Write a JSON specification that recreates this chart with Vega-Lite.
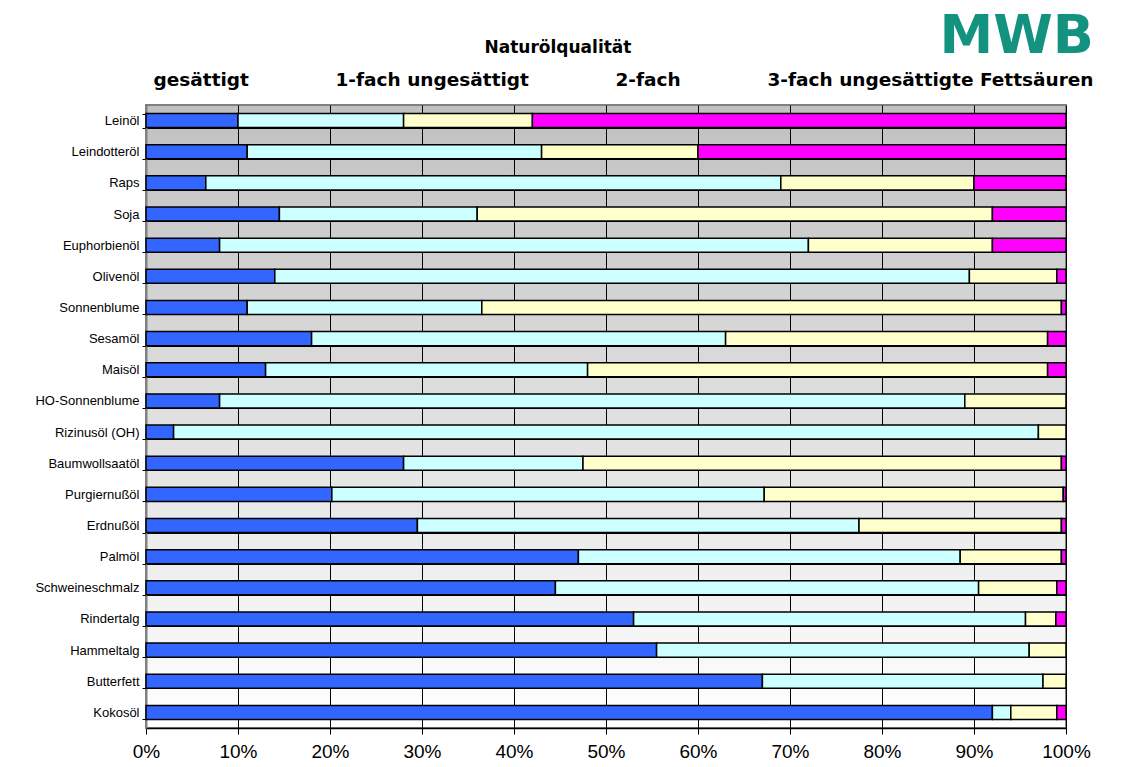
{
  "$schema": "https://vega.github.io/schema/vega-lite/v6.json",
  "width": 920,
  "height": 623,
  "autosize": "none",
  "padding": {"left": 146, "top": 105, "right": 67, "bottom": 39},
  "background": "white",
  "title": {"text": "Naturölqualität", "font": "DejaVu Sans", "fontSize": 17, "fontWeight": "bold", "color": "black", "anchor": "middle", "frame": "group", "dx": -48, "offset": -47},
  "data": {"values": [
    {"Öl": "Leinöl", "Fettsäure": "gesättigt", "Nr": 1, "Anteil": 10},
    {"Öl": "Leinöl", "Fettsäure": "1-fach ungesättigt", "Nr": 2, "Anteil": 18},
    {"Öl": "Leinöl", "Fettsäure": "2-fach", "Nr": 3, "Anteil": 14},
    {"Öl": "Leinöl", "Fettsäure": "3-fach ungesättigte Fettsäuren", "Nr": 4, "Anteil": 58},
    {"Öl": "Leindotteröl", "Fettsäure": "gesättigt", "Nr": 1, "Anteil": 11},
    {"Öl": "Leindotteröl", "Fettsäure": "1-fach ungesättigt", "Nr": 2, "Anteil": 32},
    {"Öl": "Leindotteröl", "Fettsäure": "2-fach", "Nr": 3, "Anteil": 17},
    {"Öl": "Leindotteröl", "Fettsäure": "3-fach ungesättigte Fettsäuren", "Nr": 4, "Anteil": 40},
    {"Öl": "Raps", "Fettsäure": "gesättigt", "Nr": 1, "Anteil": 6.5},
    {"Öl": "Raps", "Fettsäure": "1-fach ungesättigt", "Nr": 2, "Anteil": 62.5},
    {"Öl": "Raps", "Fettsäure": "2-fach", "Nr": 3, "Anteil": 21},
    {"Öl": "Raps", "Fettsäure": "3-fach ungesättigte Fettsäuren", "Nr": 4, "Anteil": 10},
    {"Öl": "Soja", "Fettsäure": "gesättigt", "Nr": 1, "Anteil": 14.5},
    {"Öl": "Soja", "Fettsäure": "1-fach ungesättigt", "Nr": 2, "Anteil": 21.5},
    {"Öl": "Soja", "Fettsäure": "2-fach", "Nr": 3, "Anteil": 56},
    {"Öl": "Soja", "Fettsäure": "3-fach ungesättigte Fettsäuren", "Nr": 4, "Anteil": 8},
    {"Öl": "Euphorbienöl", "Fettsäure": "gesättigt", "Nr": 1, "Anteil": 8},
    {"Öl": "Euphorbienöl", "Fettsäure": "1-fach ungesättigt", "Nr": 2, "Anteil": 64},
    {"Öl": "Euphorbienöl", "Fettsäure": "2-fach", "Nr": 3, "Anteil": 20},
    {"Öl": "Euphorbienöl", "Fettsäure": "3-fach ungesättigte Fettsäuren", "Nr": 4, "Anteil": 8},
    {"Öl": "Olivenöl", "Fettsäure": "gesättigt", "Nr": 1, "Anteil": 14},
    {"Öl": "Olivenöl", "Fettsäure": "1-fach ungesättigt", "Nr": 2, "Anteil": 75.5},
    {"Öl": "Olivenöl", "Fettsäure": "2-fach", "Nr": 3, "Anteil": 9.5},
    {"Öl": "Olivenöl", "Fettsäure": "3-fach ungesättigte Fettsäuren", "Nr": 4, "Anteil": 1},
    {"Öl": "Sonnenblume", "Fettsäure": "gesättigt", "Nr": 1, "Anteil": 11},
    {"Öl": "Sonnenblume", "Fettsäure": "1-fach ungesättigt", "Nr": 2, "Anteil": 25.5},
    {"Öl": "Sonnenblume", "Fettsäure": "2-fach", "Nr": 3, "Anteil": 63},
    {"Öl": "Sonnenblume", "Fettsäure": "3-fach ungesättigte Fettsäuren", "Nr": 4, "Anteil": 0.5},
    {"Öl": "Sesamöl", "Fettsäure": "gesättigt", "Nr": 1, "Anteil": 18},
    {"Öl": "Sesamöl", "Fettsäure": "1-fach ungesättigt", "Nr": 2, "Anteil": 45},
    {"Öl": "Sesamöl", "Fettsäure": "2-fach", "Nr": 3, "Anteil": 35},
    {"Öl": "Sesamöl", "Fettsäure": "3-fach ungesättigte Fettsäuren", "Nr": 4, "Anteil": 2},
    {"Öl": "Maisöl", "Fettsäure": "gesättigt", "Nr": 1, "Anteil": 13},
    {"Öl": "Maisöl", "Fettsäure": "1-fach ungesättigt", "Nr": 2, "Anteil": 35},
    {"Öl": "Maisöl", "Fettsäure": "2-fach", "Nr": 3, "Anteil": 50},
    {"Öl": "Maisöl", "Fettsäure": "3-fach ungesättigte Fettsäuren", "Nr": 4, "Anteil": 2},
    {"Öl": "HO-Sonnenblume", "Fettsäure": "gesättigt", "Nr": 1, "Anteil": 8},
    {"Öl": "HO-Sonnenblume", "Fettsäure": "1-fach ungesättigt", "Nr": 2, "Anteil": 81},
    {"Öl": "HO-Sonnenblume", "Fettsäure": "2-fach", "Nr": 3, "Anteil": 11},
    {"Öl": "Rizinusöl (OH)", "Fettsäure": "gesättigt", "Nr": 1, "Anteil": 3},
    {"Öl": "Rizinusöl (OH)", "Fettsäure": "1-fach ungesättigt", "Nr": 2, "Anteil": 94},
    {"Öl": "Rizinusöl (OH)", "Fettsäure": "2-fach", "Nr": 3, "Anteil": 3},
    {"Öl": "Baumwollsaatöl", "Fettsäure": "gesättigt", "Nr": 1, "Anteil": 28},
    {"Öl": "Baumwollsaatöl", "Fettsäure": "1-fach ungesättigt", "Nr": 2, "Anteil": 19.5},
    {"Öl": "Baumwollsaatöl", "Fettsäure": "2-fach", "Nr": 3, "Anteil": 52},
    {"Öl": "Baumwollsaatöl", "Fettsäure": "3-fach ungesättigte Fettsäuren", "Nr": 4, "Anteil": 0.5},
    {"Öl": "Purgiernußöl", "Fettsäure": "gesättigt", "Nr": 1, "Anteil": 20.2},
    {"Öl": "Purgiernußöl", "Fettsäure": "1-fach ungesättigt", "Nr": 2, "Anteil": 47},
    {"Öl": "Purgiernußöl", "Fettsäure": "2-fach", "Nr": 3, "Anteil": 32.5},
    {"Öl": "Purgiernußöl", "Fettsäure": "3-fach ungesättigte Fettsäuren", "Nr": 4, "Anteil": 0.3},
    {"Öl": "Erdnußöl", "Fettsäure": "gesättigt", "Nr": 1, "Anteil": 29.5},
    {"Öl": "Erdnußöl", "Fettsäure": "1-fach ungesättigt", "Nr": 2, "Anteil": 48},
    {"Öl": "Erdnußöl", "Fettsäure": "2-fach", "Nr": 3, "Anteil": 22},
    {"Öl": "Erdnußöl", "Fettsäure": "3-fach ungesättigte Fettsäuren", "Nr": 4, "Anteil": 0.5},
    {"Öl": "Palmöl", "Fettsäure": "gesättigt", "Nr": 1, "Anteil": 47},
    {"Öl": "Palmöl", "Fettsäure": "1-fach ungesättigt", "Nr": 2, "Anteil": 41.5},
    {"Öl": "Palmöl", "Fettsäure": "2-fach", "Nr": 3, "Anteil": 11},
    {"Öl": "Palmöl", "Fettsäure": "3-fach ungesättigte Fettsäuren", "Nr": 4, "Anteil": 0.5},
    {"Öl": "Schweineschmalz", "Fettsäure": "gesättigt", "Nr": 1, "Anteil": 44.5},
    {"Öl": "Schweineschmalz", "Fettsäure": "1-fach ungesättigt", "Nr": 2, "Anteil": 46},
    {"Öl": "Schweineschmalz", "Fettsäure": "2-fach", "Nr": 3, "Anteil": 8.5},
    {"Öl": "Schweineschmalz", "Fettsäure": "3-fach ungesättigte Fettsäuren", "Nr": 4, "Anteil": 1},
    {"Öl": "Rindertalg", "Fettsäure": "gesättigt", "Nr": 1, "Anteil": 53},
    {"Öl": "Rindertalg", "Fettsäure": "1-fach ungesättigt", "Nr": 2, "Anteil": 42.6},
    {"Öl": "Rindertalg", "Fettsäure": "2-fach", "Nr": 3, "Anteil": 3.3},
    {"Öl": "Rindertalg", "Fettsäure": "3-fach ungesättigte Fettsäuren", "Nr": 4, "Anteil": 1.1},
    {"Öl": "Hammeltalg", "Fettsäure": "gesättigt", "Nr": 1, "Anteil": 55.5},
    {"Öl": "Hammeltalg", "Fettsäure": "1-fach ungesättigt", "Nr": 2, "Anteil": 40.5},
    {"Öl": "Hammeltalg", "Fettsäure": "2-fach", "Nr": 3, "Anteil": 4},
    {"Öl": "Butterfett", "Fettsäure": "gesättigt", "Nr": 1, "Anteil": 67},
    {"Öl": "Butterfett", "Fettsäure": "1-fach ungesättigt", "Nr": 2, "Anteil": 30.5},
    {"Öl": "Butterfett", "Fettsäure": "2-fach", "Nr": 3, "Anteil": 2.5},
    {"Öl": "Kokosöl", "Fettsäure": "gesättigt", "Nr": 1, "Anteil": 92},
    {"Öl": "Kokosöl", "Fettsäure": "1-fach ungesättigt", "Nr": 2, "Anteil": 2},
    {"Öl": "Kokosöl", "Fettsäure": "2-fach", "Nr": 3, "Anteil": 5},
    {"Öl": "Kokosöl", "Fettsäure": "3-fach ungesättigte Fettsäuren", "Nr": 4, "Anteil": 1}
  ]},
  "mark": {"type": "bar", "stroke": "black", "strokeWidth": 1.5},
  "encoding": {
    "y": {
      "field": "Öl", "type": "nominal", "sort": null,
      "scale": {"paddingInner": 0.55, "paddingOuter": 0.275},
      "axis": {"title": null, "labelFont": "Liberation Sans", "labelFontSize": 13, "labelColor": "black", "tickBand": "extent", "grid": true, "gridColor": "black", "gridWidth": 1, "tickColor": "black", "tickSize": 4, "labelPadding": 3, "domainColor": "#808080", "domainWidth": 2}
    },
    "x": {
      "field": "Anteil", "type": "quantitative", "stack": "zero",
      "scale": {"domain": [0, 100], "nice": false},
      "axis": {"title": null, "values": [0, 10, 20, 30, 40, 50, 60, 70, 80, 90, 100], "labelExpr": "datum.value + '%'", "labelFont": "Liberation Sans", "labelFontSize": 19, "labelColor": "black", "labelFlush": false, "grid": true, "gridColor": "black", "gridWidth": 1, "tickColor": "black", "tickSize": 6, "labelPadding": 8, "domainColor": "black", "domainWidth": 1.5}
    },
    "color": {
      "field": "Fettsäure", "type": "nominal",
      "scale": {"domain": ["gesättigt", "1-fach ungesättigt", "2-fach", "3-fach ungesättigte Fettsäuren"], "range": ["#3366ff", "#ccffff", "#ffffcc", "#ff00ff"]},
      "legend": {"orient": "top", "direction": "horizontal", "padding": 0, "title": "MWB", "titleFont": "DejaVu Sans", "titleFontSize": 54, "titleFontWeight": "bold", "titleColor": "#12927f", "titleAnchor": "end", "titlePadding": 7, "labelFont": "DejaVu Sans", "labelFontSize": 18.5, "labelFontWeight": "bold", "labelColor": "black", "symbolSize": 0, "symbolOpacity": 0, "symbolStrokeWidth": 0, "labelOffset": -11, "columnPadding": 79, "offset": 15, "labelLimit": 400}
    },
    "order": {"field": "Nr", "type": "quantitative"}
  },
  "config": {
    "view": {"fill": {"gradient": "linear", "x1": 0, "y1": 0, "x2": 0, "y2": 1, "stops": [{"offset": 0, "color": "#c0c0c0"}, {"offset": 1, "color": "#ffffff"}]}, "stroke": "#808080", "strokeWidth": 2}
  }
}
